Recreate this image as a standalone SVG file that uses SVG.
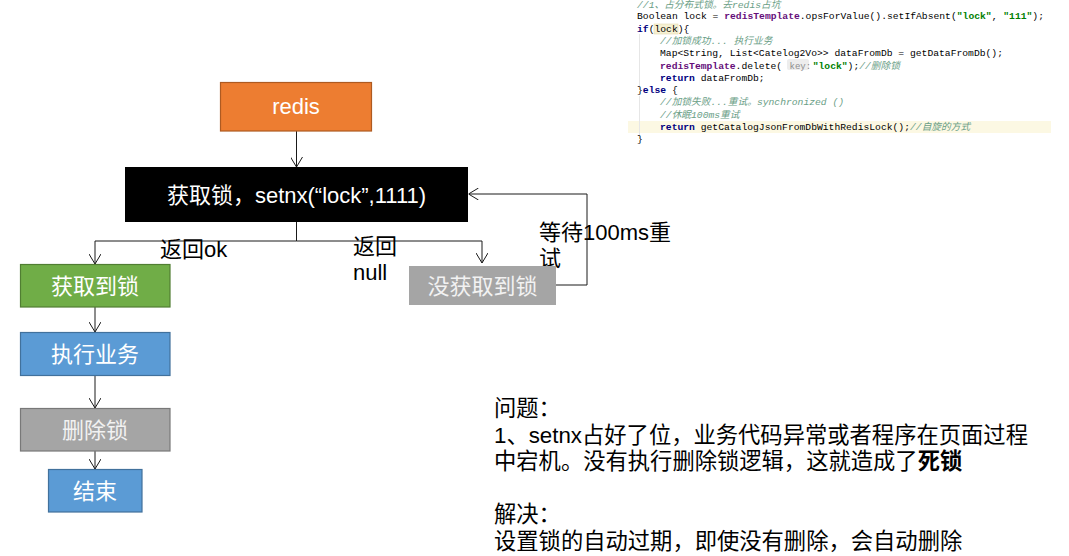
<svg xmlns="http://www.w3.org/2000/svg" width="1069" height="556" viewBox="0 0 1069 556">
<style>
.box{stroke-width:1.2}
.t{font-family:"Liberation Sans","Noto Sans CJK SC",sans-serif;font-size:22px}
.w{fill:#ffffff}
.lbl{fill:#000000}
.note{font-family:"Liberation Sans","Noto Sans CJK SC",sans-serif;font-size:22.3px;fill:#000000}
.code{font-family:"Liberation Mono","Noto Sans CJK SC",monospace;font-size:9.7px;fill:#000000}
.kw{fill:#000080;font-weight:bold}
.fld{fill:#660E7A;font-weight:bold}
.str{fill:#008000;font-weight:bold}
.cm{fill:#6A9E86;font-style:italic}
.conn{fill:none;stroke:#1a1a1a;stroke-width:1}
</style>
<defs>
<marker id="arr" viewBox="0 0 10 12" refX="10" refY="6" markerWidth="10" markerHeight="12" markerUnits="userSpaceOnUse" orient="auto">
<path d="M0,0 L10,6 L0,12" fill="none" stroke="#1a1a1a" stroke-width="1"/>
</marker>
</defs>
<rect width="1069" height="556" fill="#ffffff"/>

<g id="code">
<rect x="628" y="121" width="423" height="12" fill="#FCF8E3"/>
<line x1="639.5" y1="34" x2="639.5" y2="86" stroke="#E6E6E6" stroke-width="1"/>
<line x1="639.5" y1="96" x2="639.5" y2="136" stroke="#E6E6E6" stroke-width="1"/>
<rect x="654" y="24" width="24" height="10" fill="#F6F0D2" stroke="#E3D9AE" stroke-width="0.6"/>
<rect x="787" y="59" width="22" height="11" rx="2" fill="#EDEDED"/>
<text class="code" x="637" y="7.5"><tspan class="cm">//1、占分布式锁。去redis占坑</tspan></text>
<text class="code" x="637" y="19.3">Boolean lock = <tspan class="fld">redisTemplate</tspan>.opsForValue().setIfAbsent(<tspan class="str">"lock"</tspan>, <tspan class="str">"111"</tspan>);</text>
<text class="code" x="637" y="31.6"><tspan class="kw">if</tspan>(lock){</text>
<text class="code" x="660" y="43.9"><tspan class="cm">//加锁成功... 执行业务</tspan></text>
<text class="code" x="660" y="56.2">Map&lt;String, List&lt;Catelog2Vo&gt;&gt; dataFromDb = getDataFromDb();</text>
<text class="code" x="660" y="68.5"><tspan class="fld">redisTemplate</tspan>.delete(<tspan x="789.5" fill="#8C8C8C" font-size="9px">key:</tspan><tspan x="812.7" class="str">"lock"</tspan>);<tspan class="cm">//删除锁</tspan></text>
<text class="code" x="660" y="80.8"><tspan class="kw">return</tspan> dataFromDb;</text>
<text class="code" x="637" y="93.1">}<tspan class="kw">else</tspan> {</text>
<text class="code" x="660" y="105.4"><tspan class="cm">//加锁失败...重试。synchronized ()</tspan></text>
<text class="code" x="660" y="117.7"><tspan class="cm">//休眠100ms重试</tspan></text>
<text class="code" x="660" y="130"><tspan class="kw">return</tspan> getCatalogJsonFromDbWithRedisLock();<tspan class="cm">//自旋的方式</tspan></text>
<text class="code" x="637" y="142.3">}</text>
</g>

<g id="connectors">
<path class="conn" d="M296.5,131 V167" marker-end="url(#arr)"/>
<path class="conn" d="M296.5,222 V241 H95 V264" marker-end="url(#arr)"/>
<path class="conn" d="M296.5,241 H482 V263" marker-end="url(#arr)"/>
<path class="conn" d="M556,285 H587 V194 H468.5" marker-end="url(#arr)"/>
<path class="conn" d="M95,307 V332" marker-end="url(#arr)"/>
<path class="conn" d="M95,376 V408" marker-end="url(#arr)"/>
<path class="conn" d="M95,451 V469" marker-end="url(#arr)"/>
<text class="t lbl" x="160" y="257">返回ok</text>
<text class="t lbl" x="353" y="254">返回</text>
<text class="t lbl" x="353" y="280">null</text>
<text class="t lbl" x="539" y="240">等待100ms重</text>
<text class="t lbl" x="539" y="266">试</text>
</g>

<g id="redis">
<rect class="box" x="220.5" y="82.5" width="151" height="48.5" fill="#ED7D31" stroke="#AE5A21"/>
<text class="t w" x="296" y="114" text-anchor="middle">redis</text>
</g>

<g id="getlock">
<rect x="125" y="167" width="343" height="55" fill="#000000"/>
<text class="t w" x="296.5" y="202.5" text-anchor="middle">获取锁，setnx(“lock”,1111)</text>
</g>

<g id="gotlock">
<rect class="box" x="20.5" y="264.5" width="149.5" height="42.5" fill="#70AD47" stroke="#507E32"/>
<text class="t w" x="95" y="293.5" text-anchor="middle">获取到锁</text>
</g>

<g id="notgot">
<rect x="409" y="266" width="147" height="39" fill="#A5A5A5"/>
<text class="t" x="482.5" y="293.5" text-anchor="middle" fill="#F2F2F2">没获取到锁</text>
</g>

<g id="exec">
<rect class="box" x="20.5" y="332.5" width="149.5" height="43" fill="#5B9BD5" stroke="#41719C"/>
<text class="t w" x="95" y="362" text-anchor="middle">执行业务</text>
</g>

<g id="dellock">
<rect class="box" x="20.5" y="408.5" width="149.5" height="42.5" fill="#A5A5A5" stroke="#787878"/>
<text class="t" x="95" y="437.5" text-anchor="middle" fill="#F2F2F2">删除锁</text>
</g>

<g id="end">
<rect class="box" x="48.5" y="469.5" width="93.5" height="42.5" fill="#5B9BD5" stroke="#41719C"/>
<text class="t w" x="95" y="498.5" text-anchor="middle">结束</text>
</g>

<g id="notes">
<text class="note" x="494" y="416">问题：</text>
<text class="note" x="494" y="442.5">1、setnx占好了位，业务代码异常或者程序在页面过程</text>
<text class="note" x="494" y="469">中宕机。没有执行删除锁逻辑，这就造成了<tspan font-weight="bold">死锁</tspan></text>
<text class="note" x="494" y="522">解决：</text>
<text class="note" x="494" y="548.5">设置锁的自动过期，即使没有删除，会自动删除</text>
</g>
</svg>
